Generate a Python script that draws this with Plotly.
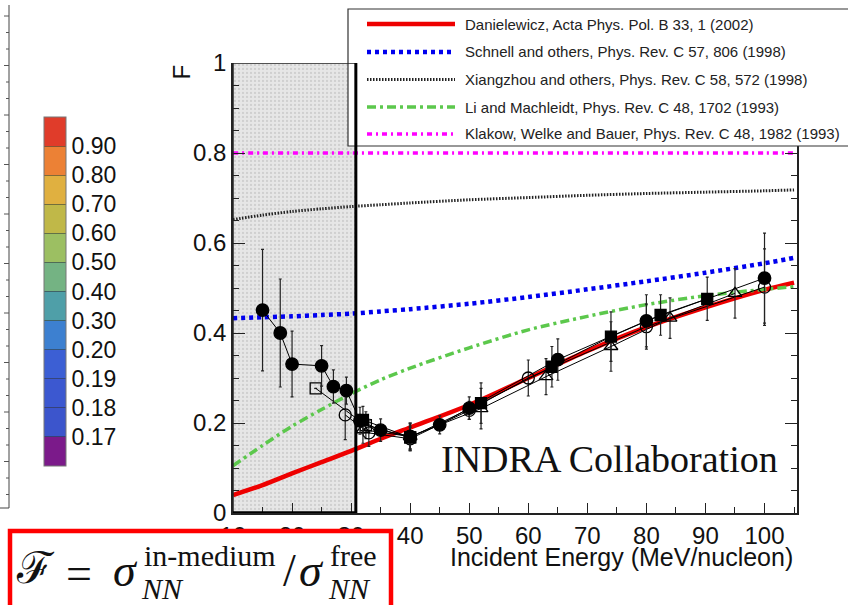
import plotly.graph_objects as go

# ---------------- data ----------------
# theory curves (F vs incident energy, MeV/nucleon)
E_theory = [10, 15, 20, 25, 30, 35, 40, 50, 60, 70, 80, 90, 100, 105]
F_danielewicz = [0.040, 0.062, 0.088, 0.113, 0.138, 0.165, 0.190, 0.240, 0.300, 0.360, 0.413, 0.457, 0.496, 0.512]
F_schnell = [0.433, 0.435, 0.437, 0.440, 0.443, 0.448, 0.453, 0.465, 0.480, 0.497, 0.515, 0.534, 0.555, 0.567]
F_xiangzhou = [0.652, 0.662, 0.670, 0.676, 0.681, 0.685, 0.689, 0.696, 0.701, 0.706, 0.710, 0.713, 0.716, 0.718]
F_li = [0.105, 0.150, 0.193, 0.230, 0.265, 0.296, 0.322, 0.367, 0.407, 0.437, 0.463, 0.483, 0.497, 0.503]
F_klakow = [0.80] * len(E_theory)

theory_labels = [
    "Danielewicz, Acta Phys. Pol. B 33, 1 (2002)",
    "Schnell and others, Phys. Rev. C 57, 806 (1998)",
    "Xiangzhou and others, Phys. Rev. C 58, 572 (1998)",
    "Li and Machleidt, Phys. Rev. C 48, 1702 (1993)",
    "Klakow, Welke and Bauer, Phys. Rev. C 48, 1982 (1993)",
]

# INDRA measurements
E_fc = [15, 18, 20, 25, 27, 29.2, 31.5, 35, 40, 45, 50, 65, 80, 100]
F_fc = [0.451, 0.400, 0.331, 0.327, 0.281, 0.272, 0.205, 0.184, 0.170, 0.196, 0.233, 0.341, 0.427, 0.522]
dF_fc = [0.135, 0.120, 0.073, 0.045, 0.037, 0.030, 0.030, 0.025, 0.030, 0.020, 0.025, 0.046, 0.058, 0.100]

E_fs = [32, 40, 52, 64, 74, 82.4, 90.3]
F_fs = [0.207, 0.168, 0.244, 0.325, 0.392, 0.440, 0.476]
dF_fs = [0.030, 0.030, 0.045, 0.045, 0.055, 0.045, 0.048]

E_oc = [29, 33, 40, 50, 60, 80, 100]
F_oc = [0.218, 0.178, 0.165, 0.228, 0.300, 0.414, 0.502]
dF_oc = [0.055, 0.030, 0.025, 0.020, 0.040, 0.050, 0.085]

E_os = [24, 32.5, 40]
F_os = [0.277, 0.195, 0.168]
dF_os = [0.0, 0.030, 0.025]

E_ot = [32, 40, 52, 63, 74, 84, 95]
F_ot = [0.185, 0.170, 0.232, 0.303, 0.370, 0.433, 0.488]
dF_ot = [0.030, 0.030, 0.045, 0.040, 0.055, 0.045, 0.055]

# colour scale shown on the left
cbar_colors = ["#7b1a8a", "#3c55cc", "#3c58d0", "#3c5fd4", "#3d80d0", "#4f9fa8",
               "#74b383", "#9cbf62", "#c0b848", "#e0b040", "#ec8135", "#e03c2a"]
cbar_labels = ["0.17", "0.18", "0.19", "0.20", "0.30", "0.40", "0.50", "0.60", "0.70", "0.80", "0.90"]

# region of the low-energy band (MeV/nucleon, F)
band_E = [10, 30.8]
band_F = [0, 1]

# ---------------- figure ----------------
W, H = 848, 605
def px(x):
    return x / W
def py(y):
    return 1 - y / H

fig = go.Figure()

# stippled low-energy band
fig.add_trace(go.Scatter(
    x=[band_E[0], band_E[1], band_E[1], band_E[0], band_E[0]],
    y=[band_F[0], band_F[0], band_F[1], band_F[1], band_F[0]],
    mode="lines", fill="toself", line=dict(width=0), showlegend=False, hoverinfo="skip",
    fillcolor="#e4e4e4",
    fillpattern=dict(shape=".", bgcolor="#e6e6e6", fgcolor="#b8b8b8", size=4, solidity=0.25),
))

styles = [
    dict(color="#ee0000", width=4.5, dash="solid"),
    dict(color="#0000ee", width=4.5, dash="4px,4px"),
    dict(color="#222222", width=3, dash="1.5px,1.5px"),
    dict(color="#5cc84c", width=3.5, dash="9px,4px,3px,4px"),
    dict(color="#ff00ff", width=3.5, dash="5px,4px,2px,4px"),
]
curves = [F_danielewicz, F_schnell, F_xiangzhou, F_li, F_klakow]
for lab, F, st in zip(theory_labels, curves, styles):
    fig.add_trace(go.Scatter(x=E_theory, y=F, mode="lines", name=lab,
                             line=dict(color=st["color"], width=st["width"], dash=st["dash"],
                                       shape="spline", smoothing=0.8),
                             showlegend=False, hoverinfo="skip"))

def data_series(E, F, dF, symbol, size, lw=1.3):
    fig.add_trace(go.Scatter(
        x=E, y=F, mode="lines+markers", showlegend=False,
        line=dict(color="black", width=1),
        marker=dict(symbol=symbol, size=size, color="black",
                    line=dict(color="black", width=lw)),
        error_y=dict(type="data", array=dF, visible=True, color="#222222",
                     thickness=1.2, width=1.5),
    ))

data_series(E_os, F_os, dF_os, "square-open", 11)
data_series(E_oc, F_oc, dF_oc, "circle-open", 12)
data_series(E_ot, F_ot, dF_ot, "triangle-up-open", 12)
data_series(E_fs, F_fs, dF_fs, "square", 11)
data_series(E_fc, F_fc, dF_fc, "circle", 12.5)

# discrete colour bar
n = len(cbar_colors)
cscale = []
for i, c in enumerate(cbar_colors):
    cscale.append([i / n, c])
    cscale.append([(i + 1) / n, c])
fig.add_trace(go.Scatter(
    x=[None], y=[None], mode="markers", showlegend=False,
    marker=dict(color=[0], cmin=0, cmax=n, colorscale=cscale, showscale=True,
                colorbar=dict(
                    x=px(44), xanchor="left", y=py(466), yanchor="bottom",
                    thickness=22, thicknessmode="pixels",
                    len=349, lenmode="pixels", xpad=0, ypad=0,
                    outlinewidth=1, outlinecolor="#777777",
                    tickvals=list(range(1, n)), ticktext=cbar_labels,
                    ticks="inside", ticklen=22, tickwidth=1,
                    tickcolor="rgba(50,50,50,0.55)",
                    tickfont=dict(family="Liberation Sans, Arial", size=23, color="#111111"),
                )),
))

shapes = []

# legend box and samples
leg_rows = [24, 52, 79.5, 107, 134]
shapes.append(dict(type="rect", xref="paper", yref="paper", x0=px(348), x1=px(852),
                   y0=py(146), y1=py(9), fillcolor="white",
                   line=dict(color="#333333", width=1.2), layer="above"))
for r, st in zip(leg_rows, styles):
    shapes.append(dict(type="line", xref="paper", yref="paper", x0=px(367), x1=px(455),
                       y0=py(r), y1=py(r),
                       line=dict(color=st["color"], width=st["width"], dash=st["dash"]),
                       layer="above"))

# band outline (thin left/top, heavy right/bottom)
shapes.append(dict(type="rect", xref="x", yref="y", x0=band_E[0], x1=band_E[1],
                   y0=band_F[0], y1=band_F[1],
                   line=dict(color="#222222", width=1.5), layer="above"))
shapes.append(dict(type="line", xref="x", yref="y", x0=band_E[1], x1=band_E[1],
                   y0=band_F[0], y1=band_F[1],
                   line=dict(color="black", width=3), layer="above"))
shapes.append(dict(type="line", xref="x", yref="y", x0=band_E[0], x1=band_E[1],
                   y0=band_F[0], y1=band_F[0],
                   line=dict(color="black", width=3.5), layer="above"))

# thin ruled strip at the left edge
shapes.append(dict(type="line", xref="paper", yref="paper", x0=px(9), x1=px(9),
                   y0=py(508), y1=py(5), line=dict(color="#444444", width=1)))
shapes.append(dict(type="line", xref="paper", yref="paper", x0=px(0), x1=px(9),
                   y0=py(508), y1=py(508), line=dict(color="#444444", width=1)))
k = 0
yy = 16.0
while yy < 505:
    L = 5 if k % 3 == 0 else 3
    shapes.append(dict(type="line", xref="paper", yref="paper", x0=px(9 - L), x1=px(9),
                       y0=py(yy), y1=py(yy), line=dict(color="#555555", width=1)))
    yy += 16.5
    k += 1

# box around the definition of F
shapes.append(dict(type="rect", xref="paper", yref="paper", x0=px(10), x1=px(391),
                   y0=py(612), y1=py(531), fillcolor="white",
                   line=dict(color="#ff0000", width=4.5), layer="above"))

annotations = []
for r, lab in zip(leg_rows, theory_labels):
    annotations.append(dict(xref="paper", yref="paper", x=px(463), y=py(r), text=lab,
                            showarrow=False, xanchor="left", yanchor="middle",
                            font=dict(family="Liberation Sans, Arial", size=15, color="#222222")))

annotations.append(dict(xref="paper", yref="paper", x=px(795), y=py(557),
                        text="Incident Energy (MeV/nucleon)", showarrow=False,
                        xanchor="right", yanchor="middle",
                        font=dict(family="Liberation Sans, Arial", size=25, color="#111111")))
annotations.append(dict(xref="paper", yref="paper", x=px(181), y=py(63),
                        text="F", showarrow=False, textangle=-90,
                        xanchor="center", yanchor="top",
                        font=dict(family="Liberation Sans, Arial", size=24, color="#111111")))
annotations.append(dict(xref="paper", yref="paper", x=px(439), y=py(459),
                        text="INDRA Collaboration", showarrow=False,
                        xanchor="left", yanchor="middle",
                        font=dict(family="Liberation Serif, Times New Roman", size=38, color="#111111")))

serif = "Liberation Serif, DejaVu Serif, Times New Roman"
def txt(x, y, s, size, anchor="left"):
    annotations.append(dict(xref="paper", yref="paper", x=px(x), y=py(y), text=s,
                            showarrow=False, xanchor=anchor, yanchor="middle",
                            font=dict(family=serif, size=size, color="#111111")))

txt(14, 568, "ℱ", 44)
txt(64, 573, "=", 46)
txt(111, 570, "<i>σ</i>", 46)
txt(142, 555, "in-medium", 30)
txt(139, 588, "<i>NN</i>", 30)
txt(281, 570, "/", 46)
txt(297, 570, "<i>σ</i>", 46)
txt(328, 555, "free", 30)
txt(326, 588, "<i>NN</i>", 30)

tickfont = dict(family="Liberation Sans, Arial", size=24, color="#111111")
fig.update_layout(
    width=W, height=H,
    margin=dict(l=0, r=0, t=0, b=0, autoexpand=False),
    paper_bgcolor="white", plot_bgcolor="white",
    shapes=shapes, annotations=annotations,
    xaxis=dict(domain=[px(233), px(797)], range=[10, 105.5], automargin=False,
               tickvals=list(range(10, 101, 10)),
               ticktext=[str(v) for v in range(10, 101, 10)],
               ticks="inside", ticklen=10, tickwidth=1, tickcolor="#222222",
               minor=dict(dtick=5, tick0=10, ticks="inside", ticklen=6, tickcolor="#222222"),
               showline=True, linecolor="#222222", linewidth=1.5, mirror=False,
               showgrid=False, zeroline=False, tickfont=tickfont),
    yaxis=dict(domain=[py(513), py(63)], range=[0, 1], automargin=False,
               tickvals=[0, 0.2, 0.4, 0.6, 0.8, 1.0],
               ticktext=["0", "0.2", "0.4", "0.6", "0.8", "1"],
               ticks="inside", ticklen=12, tickwidth=1, tickcolor="#222222",
               minor=dict(dtick=0.05, tick0=0, ticks="inside", ticklen=6, tickcolor="#222222"),
               showline=True, linecolor="#222222", linewidth=1.5, mirror="ticks",
               showgrid=False, zeroline=False, tickfont=tickfont),
    showlegend=False,
)

fig.write_html("out.html")
